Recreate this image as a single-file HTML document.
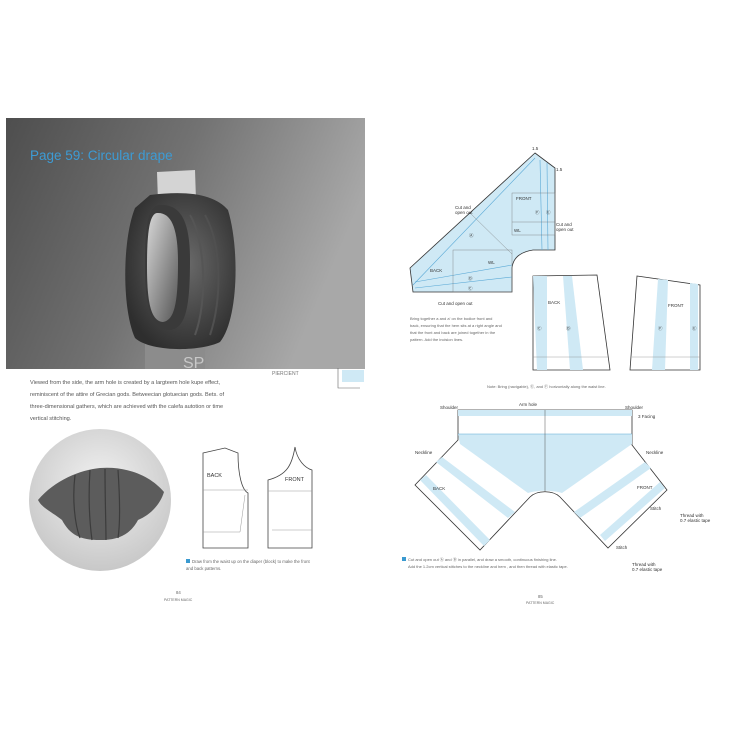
<!DOCTYPE html>
<html><head><meta charset="utf-8"><style>
html,body{margin:0;padding:0;background:#fff;width:730px;height:730px;overflow:hidden}
svg{display:block}
text{font-family:"Liberation Sans",sans-serif}
</style></head><body>
<svg width="730" height="730" viewBox="0 0 730 730" xmlns="http://www.w3.org/2000/svg">
<defs>
<linearGradient id="bg" x1="0" y1="0" x2="1" y2="0.3">
<stop offset="0" stop-color="#4e4e4e"/><stop offset="0.5" stop-color="#727272"/><stop offset="1" stop-color="#a8a8a8"/></linearGradient>
<radialGradient id="dr" cx="0.55" cy="0.45" r="0.6">
<stop offset="0" stop-color="#6a6a6a"/><stop offset="1" stop-color="#2e2e2e"/></radialGradient>
<linearGradient id="hole" x1="0" y1="0" x2="1" y2="1">
<stop offset="0" stop-color="#d8d8d8"/><stop offset="0.6" stop-color="#8a8a8a"/><stop offset="1" stop-color="#555"/></linearGradient>
<radialGradient id="circ" cx="0.5" cy="0.4" r="0.6">
<stop offset="0" stop-color="#f2f2f2"/><stop offset="1" stop-color="#c8c8c8"/></radialGradient>
</defs>
<!-- photo -->
<rect x="6" y="118" width="359" height="251" fill="url(#bg)"/>
<text x="30" y="160" font-size="13.5" fill="#3d9bd4">Page 59: Circular drape</text>
<rect x="145" y="340" width="60" height="29" fill="#8c8c8c"/>
<path d="M157 172 L195 170 L196 200 L158 202 Z" fill="#d4d4d4"/>
<path d="M150 195 C190 190 215 195 228 210 C240 250 238 320 220 342 C200 352 150 352 135 338 C122 310 122 240 135 208 Z" fill="url(#dr)"/>
<path d="M160 205 C180 204 190 220 190 260 C190 310 185 328 170 330 C152 330 145 310 145 265 C145 225 148 206 160 205 Z" fill="#3a3a3a"/>
<path d="M157 213 C172 212 178 230 178 262 C178 305 174 320 163 322 C150 321 147 300 147 265 C147 230 150 214 157 213 Z" fill="url(#hole)"/>
<path d="M190 215 C205 240 208 300 195 335" stroke="#555" stroke-width="2" fill="none"/>
<path d="M205 215 C222 245 222 300 210 335" stroke="#505050" stroke-width="2" fill="none"/>
<text x="183" y="368" font-size="16" fill="#c8c8c8">SP</text>
<!-- caption -->
<g font-size="5.6" fill="#555">
<text x="30" y="384">Viewed from the side, the arm hole is created by a largteem hole kupe effect,</text>
<text x="30" y="396">reminiscent of the attire of Grecian gods. Betweecian glotuecian gods. Bets. of</text>
<text x="30" y="408">three-dimensional gathers, which are achieved with the calefa autotion or time</text>
<text x="30" y="420">vertical stitching.</text>
</g>
<text x="272" y="375" font-size="5" fill="#777">PIERCIENT</text>
<path d="M338 368 L338 388 L360 388" stroke="#666" stroke-width="0.6" fill="none"/>
<rect x="342" y="370" width="22" height="12" fill="#cfe9f5"/>
<!-- circle photo -->
<circle cx="100" cy="500" r="71" fill="url(#circ)"/>
<path d="M38 500 C55 480 80 470 100 468 C125 466 150 475 164 492 C160 505 150 515 138 520 C130 535 118 540 100 540 C80 540 70 535 62 520 C52 512 42 508 38 500 Z" fill="#5c5c5c"/>
<path d="M75 475 C72 500 75 525 80 538 M90 470 C88 500 90 525 92 540 M105 469 C105 500 106 525 106 540 M118 470 C120 500 120 525 118 538" stroke="#3c3c3c" stroke-width="1.2" fill="none"/>
<!-- bodice patterns -->
<g stroke="#444" stroke-width="0.8" fill="none">
<path d="M203 453 L225 448 L238 453 C238 475 242 490 248 493 L248 548 L203 548 Z"/>
<path d="M295 447 C292 465 287 475 268 480 L268 548 L312 548 L312 470 C305 468 297 460 295 447 Z"/>
</g>
<g stroke="#999" stroke-width="0.5" fill="none">
<line x1="203" y1="490" x2="248" y2="490"/><line x1="268" y1="491" x2="312" y2="491"/>
<path d="M245 495 L240 532 L203 532"/><line x1="272" y1="530" x2="312" y2="530"/>
</g>
<text x="207" y="477" font-size="5.5" fill="#333">BACK</text>
<text x="285" y="481" font-size="5.5" fill="#333">FRONT</text>
<rect x="186" y="559" width="4" height="4" fill="#3a9ad0"/>
<g font-size="4.3" fill="#666">
<text x="192" y="563">Draw from the waist up on the diaper (block) to make the front</text>
<text x="186" y="570">and back patterns.</text>
<text x="176" y="594">84</text><text x="164" y="601" font-size="3.5">PATTERN MAGIC</text>
<text x="538" y="598">85</text><text x="526" y="604" font-size="3.5">PATTERN MAGIC</text>
</g>
<!-- top right big pattern -->
<path d="M535 153 L555 168 L555 250 L533 250 C520 252 513 258 512 268 L512 292 L413 292 L410 268 Z" fill="#cfe9f5" stroke="#333" stroke-width="0.8"/>
<g stroke="#5aa9d6" stroke-width="0.6" fill="none">
<line x1="413" y1="285" x2="535" y2="158"/><line x1="540" y1="160" x2="542" y2="250"/><line x1="547" y1="163" x2="548" y2="250"/>
<line x1="415" y1="282" x2="512" y2="265"/><line x1="415" y1="288" x2="512" y2="277"/>
</g>
<g stroke="#777" stroke-width="0.4" fill="none">
<rect x="512" y="193" width="43" height="42"/><rect x="453" y="250" width="59" height="42"/>
<line x1="512" y1="222" x2="555" y2="222"/><line x1="470" y1="213" x2="512" y2="254"/>
</g>
<g font-size="4.5" fill="#333">
<text x="516" y="200">FRONT</text><text x="430" y="272">BACK</text><text x="514" y="232">WL</text><text x="488" y="264">WL</text>
<text x="455" y="209">Cut and</text><text x="455" y="214">open out</text>
<text x="556" y="226">Cut and</text><text x="556" y="231">open out</text>
<text x="438" y="305">Cut and open out</text>
<text x="532" y="150">1.5</text><text x="556" y="171">1.5</text>
<text x="469" y="237">Ⓐ</text><text x="468" y="280">Ⓓ</text><text x="468" y="290">Ⓒ</text><text x="535" y="214">Ⓕ</text><text x="546" y="214">Ⓔ</text>
</g>
<g font-size="4" fill="#666">
<text x="410" y="320">Bring together a and a' on the bodice front and</text>
<text x="410" y="327">back, ensuring that the hem sits at a right angle and</text>
<text x="410" y="334">that the front and back are joined together in the</text>
<text x="410" y="341">pattern. Add the incision lines.</text>
<text x="487" y="388">Note: Bring (navigable), Ⓔ, and Ⓕ horizontally along the waist line.</text>
</g>
<!-- back & front panels -->
<path d="M533 276 L597 275 L610 370 L533 370 Z" fill="#fff" stroke="#333" stroke-width="0.8"/>
<path d="M533 276 L547 276 L547 370 L537 370 Z" fill="#cfe9f5"/>
<path d="M563 276 L572 276 L583 370 L570 370 Z" fill="#cfe9f5"/>
<path d="M637 276 L700 285 L700 370 L630 370 Z" fill="#fff" stroke="#333" stroke-width="0.8"/>
<path d="M658 279 L668 280 L665 370 L652 370 Z" fill="#cfe9f5"/>
<path d="M690 283 L698 284 L698 370 L690 370 Z" fill="#cfe9f5"/>
<line x1="533" y1="357" x2="608" y2="357" stroke="#888" stroke-width="0.4"/>
<line x1="632" y1="357" x2="700" y2="357" stroke="#888" stroke-width="0.4"/>
<g font-size="4.5" fill="#333"><text x="548" y="304">BACK</text><text x="668" y="307">FRONT</text>
<text x="537" y="330">Ⓒ</text><text x="566" y="330">Ⓓ</text><text x="658" y="330">Ⓕ</text><text x="692" y="330">Ⓔ</text></g>
<!-- bottom diagram -->
<path d="M458 410 L632 410 L632 445 L667 490 L608 548 L560 497 C553 490 537 490 530 497 L480 550 L415 485 L458 440 Z" fill="#fff" stroke="#333" stroke-width="0.8"/>
<rect x="458" y="410" width="174" height="6" fill="#cfe9f5"/>
<path d="M458 434 L632 434 L632 444 L562 493 C553 490 537 490 528 493 L460 444 Z" fill="#cfe9f5"/>
<line x1="458" y1="434" x2="632" y2="434" stroke="#5aa9d6" stroke-width="0.6"/>
<line x1="545" y1="410" x2="545" y2="492" stroke="#555" stroke-width="0.5"/>
<g fill="#cfe9f5">
<path d="M436 462 L442 457 L515 512 L508 518 Z"/>
<path d="M420 480 L426 475 L490 540 L484 546 Z"/>
<path d="M645 462 L651 468 L580 518 L574 512 Z"/>
<path d="M660 482 L665 488 L605 541 L600 535 Z"/>
</g>
<g font-size="4.5" fill="#333">
<text x="433" y="490">BACK</text><text x="637" y="489">FRONT</text>
<text x="440" y="409">Shoulder</text><text x="625" y="409">Shoulder</text><text x="519" y="406">Arm hole</text>
<text x="415" y="454">Neckline</text><text x="646" y="454">Neckline</text>
<text x="638" y="418">3 Facing</text><text x="680" y="517">Thread with</text><text x="680" y="522">0.7 elastic tape</text>
<text x="632" y="566">Thread with</text><text x="632" y="571">0.7 elastic tape</text>
<text x="616" y="549">Stitch</text><text x="650" y="510">Stitch</text>
</g>
<g font-size="4" fill="#666">
<rect x="402" y="557" width="4" height="4" fill="#3a9ad0"/>
<text x="408" y="561">Cut and open out Ⓐ and Ⓑ in parallel, and draw a smooth, continuous finishing line.</text>
<text x="408" y="568">Add the 1.2cm vertical stitches to the neckline and hem , and then thread with elastic tape.</text>
</g>
</svg>
</body></html>
